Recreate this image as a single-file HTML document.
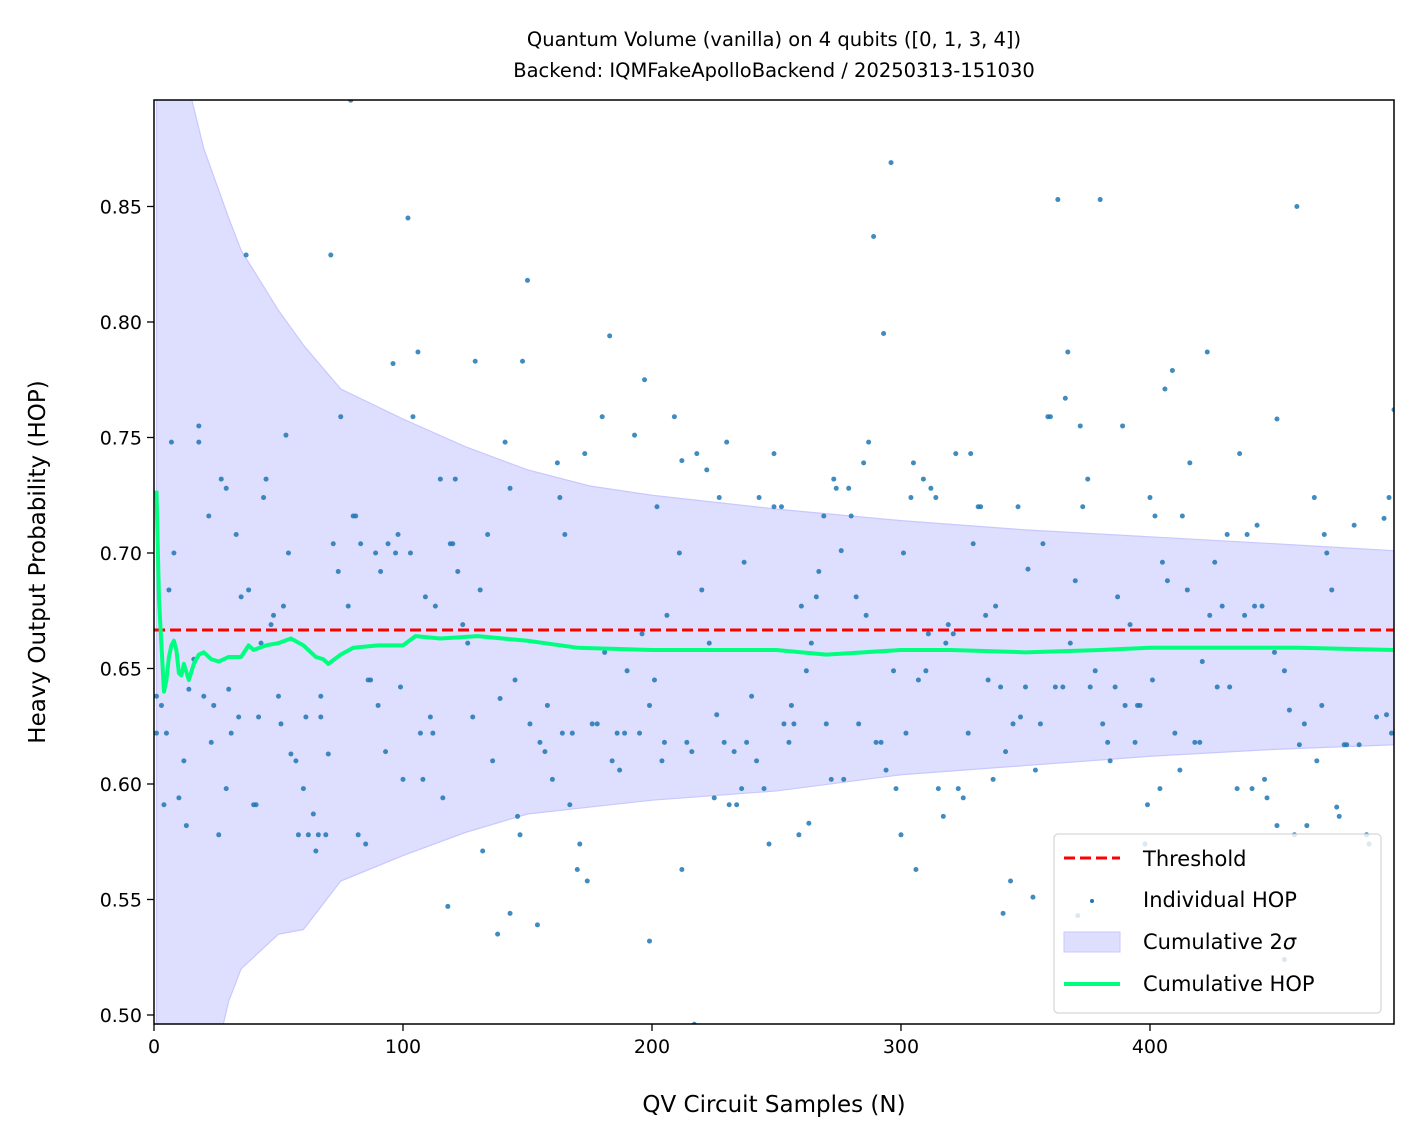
<!DOCTYPE html>
<html><head><meta charset="utf-8"><style>
html,body{margin:0;padding:0;background:#fff;overflow:hidden;width:1419px;height:1144px;}
svg{display:block;}
svg text{font-family:"DejaVu Sans","Liberation Sans",sans-serif;fill:#000;}
</style></head><body>
<svg id="chart" width="1419" height="1144" xmlns="http://www.w3.org/2000/svg">
<defs><clipPath id="clip"><rect x="154" y="100" width="1240" height="924"/></clipPath></defs>
<text x="774" y="46" text-anchor="middle" font-size="19.5">Quantum Volume (vanilla) on 4 qubits ([0, 1, 3, 4])</text>
<text x="774" y="77" text-anchor="middle" font-size="19.5">Backend: IQMFakeApolloBackend / 20250313-151030</text>
<g id="band" clip-path="url(#clip)"></g>
<g id="pts" clip-path="url(#clip)"></g>
<g id="lines" clip-path="url(#clip)"></g>
<rect x="154" y="100" width="1240" height="924" fill="none" stroke="#000" stroke-width="1.5"/>
<g id="axes"></g>
<text x="774" y="1112" text-anchor="middle" font-size="23">QV Circuit Samples (N)</text>
<text transform="translate(45,562) rotate(-90)" text-anchor="middle" font-size="23">Heavy Output Probability (HOP)</text>
<g>
<rect x="1054" y="834" width="327" height="179" rx="4" fill="#fff" fill-opacity="0.8" stroke="#ccc"/>
<line x1="1064" y1="858" x2="1120" y2="858" stroke="#f00" stroke-width="3" stroke-dasharray="11,5"/>
<text x="1143" y="866" font-size="21">Threshold</text>
<circle cx="1092" cy="901" r="2" fill="#1f77b4"/>
<text x="1143" y="907" font-size="21">Individual HOP</text>
<rect x="1064" y="932" width="56" height="20" fill="#dedeff" stroke="#c8c8ff"/>
<text x="1143" y="949" font-size="21">Cumulative 2<tspan font-style="italic">σ</tspan></text>
<line x1="1064" y1="984" x2="1120" y2="984" stroke="#00ff7f" stroke-width="4"/>
<text x="1143" y="991" font-size="21">Cumulative HOP</text>
</g>
</svg>
<script>
const ptN=[1,1,3,4,5,6,7,8,10,12,13,14,16,18,18,20,22,23,24,26,27,29,29,30,31,33,34,35,37,38,40,41,42,43,44,45,47,48,50,51,52,53,54,55,57,58,60,61,62,64,65,66,67,67,69,70,71,72,74,75,78,79,80,81,82,83,85,86,87,89,90,91,93,94,96,97,98,99,100,102,103,104,106,107,108,109,111,112,113,115,116,118,119,120,121,122,124,126,128,129,131,132,134,136,138,139,141,143,143,145,146,147,148,150,151,154,155,157,158,160,162,163,164,165,167,168,170,171,173,174,176,178,180,181,183,184,186,187,189,190,193,195,196,197,199,199,201,202,204,205,206,209,211,212,212,214,216,217,218,220,222,223,225,226,227,229,230,231,233,234,236,237,238,240,242,243,245,247,249,249,252,253,255,256,257,259,260,262,263,264,266,267,269,270,272,273,274,276,277,279,280,282,283,285,286,287,289,290,292,293,294,296,297,298,300,301,302,304,305,306,307,309,310,311,312,314,315,317,318,319,321,322,323,325,327,328,329,331,332,334,335,337,338,340,341,342,344,345,347,348,350,351,353,354,356,357,359,360,362,363,365,366,367,368,370,371,372,373,375,376,378,380,381,383,384,386,387,389,390,392,394,395,396,398,399,400,401,402,404,405,406,407,409,410,412,413,415,416,418,420,421,423,424,426,427,429,431,432,435,436,438,439,441,442,443,445,446,447,450,451,451,454,454,456,458,459,460,462,463,466,467,469,470,471,473,475,476,478,479,482,484,487,488,491,494,495,496,497,498];
const ptHop=[0.638,0.622,0.634,0.591,0.622,0.684,0.748,0.700,0.594,0.610,0.582,0.641,0.654,0.755,0.748,0.638,0.716,0.618,0.634,0.578,0.732,0.728,0.598,0.641,0.622,0.708,0.629,0.681,0.829,0.684,0.591,0.591,0.629,0.661,0.724,0.732,0.669,0.673,0.638,0.626,0.677,0.751,0.700,0.613,0.610,0.578,0.598,0.629,0.578,0.587,0.571,0.578,0.629,0.638,0.578,0.613,0.829,0.704,0.692,0.759,0.677,0.896,0.716,0.716,0.578,0.704,0.574,0.645,0.645,0.700,0.634,0.692,0.614,0.704,0.782,0.700,0.708,0.642,0.602,0.845,0.700,0.759,0.787,0.622,0.602,0.681,0.629,0.622,0.677,0.732,0.594,0.547,0.704,0.704,0.732,0.692,0.669,0.661,0.629,0.783,0.684,0.571,0.708,0.610,0.535,0.637,0.748,0.728,0.544,0.645,0.586,0.578,0.783,0.818,0.626,0.539,0.618,0.614,0.634,0.602,0.739,0.724,0.622,0.708,0.591,0.622,0.563,0.574,0.743,0.558,0.626,0.626,0.759,0.657,0.794,0.610,0.622,0.606,0.622,0.649,0.751,0.622,0.665,0.775,0.532,0.634,0.645,0.720,0.610,0.618,0.673,0.759,0.700,0.740,0.563,0.618,0.614,0.496,0.743,0.684,0.736,0.661,0.594,0.630,0.724,0.618,0.748,0.591,0.614,0.591,0.598,0.696,0.618,0.638,0.610,0.724,0.598,0.574,0.720,0.743,0.720,0.626,0.618,0.634,0.626,0.578,0.677,0.649,0.583,0.661,0.681,0.692,0.716,0.626,0.602,0.732,0.728,0.701,0.602,0.728,0.716,0.681,0.626,0.739,0.673,0.748,0.837,0.618,0.618,0.795,0.606,0.869,0.649,0.598,0.578,0.700,0.622,0.724,0.739,0.563,0.645,0.732,0.649,0.665,0.728,0.724,0.598,0.586,0.661,0.669,0.665,0.743,0.598,0.594,0.622,0.743,0.704,0.720,0.720,0.673,0.645,0.602,0.677,0.642,0.544,0.614,0.558,0.626,0.720,0.629,0.642,0.693,0.551,0.606,0.626,0.704,0.759,0.759,0.642,0.853,0.642,0.767,0.787,0.661,0.688,0.543,0.755,0.720,0.732,0.642,0.649,0.853,0.626,0.618,0.610,0.642,0.681,0.755,0.634,0.669,0.618,0.634,0.634,0.574,0.591,0.724,0.645,0.716,0.598,0.696,0.771,0.688,0.779,0.622,0.606,0.716,0.684,0.739,0.618,0.618,0.653,0.787,0.673,0.696,0.642,0.677,0.708,0.642,0.598,0.743,0.673,0.708,0.598,0.677,0.712,0.677,0.602,0.594,0.657,0.582,0.758,0.524,0.649,0.632,0.578,0.850,0.617,0.626,0.582,0.724,0.610,0.634,0.708,0.700,0.684,0.590,0.586,0.617,0.617,0.712,0.617,0.578,0.574,0.629,0.715,0.630,0.724,0.622,0.762];
const cumN=[1,2,3,4,5,6,7,8,9,10,11,12,14,16,18,20,23,26,30,35,38,40,45,50,55,60,65,68,70,75,80,90,100,105,115,130,150,170,200,230,250,270,300,320,350,380,400,430,460,498];
const cumHop=[0.727,0.680,0.660,0.640,0.645,0.655,0.660,0.662,0.658,0.648,0.647,0.652,0.645,0.652,0.656,0.657,0.654,0.653,0.655,0.655,0.660,0.658,0.660,0.661,0.663,0.660,0.655,0.654,0.652,0.656,0.659,0.660,0.660,0.664,0.663,0.664,0.662,0.659,0.658,0.658,0.658,0.656,0.658,0.658,0.657,0.658,0.659,0.659,0.659,0.658];
const bandN=[1,5,10,15,20,30,35,50,60,75,100,125,150,175,200,250,300,350,400,450,498];
const bandHi=[1.2,1.0,0.93,0.897,0.875,0.845,0.831,0.805,0.790,0.771,0.758,0.746,0.736,0.729,0.725,0.719,0.714,0.710,0.707,0.704,0.701];
const bandLo=[0.25,0.35,0.40,0.43,0.46,0.506,0.520,0.535,0.537,0.558,0.569,0.579,0.587,0.590,0.593,0.597,0.604,0.608,0.612,0.615,0.617];
const xTicks=[0,100,200,300,400];
const yTicks=[0.50,0.55,0.60,0.65,0.70,0.75,0.80,0.85];
const threshold=2/3;
const X0=154,X1=1394,Y0=1024,Y1=100,xmin=0,xmax=498,ymin=0.4961,ymax=0.8961;
const sx=v=>X0+(v-xmin)/(xmax-xmin)*(X1-X0);
const sy=v=>Y0-(v-ymin)/(ymax-ymin)*(Y0-Y1);
const NS="http://www.w3.org/2000/svg";
function mk(tag,attrs,parent){const e=document.createElementNS(NS,tag);for(const k in attrs)e.setAttribute(k,attrs[k]);parent.appendChild(e);return e;}
const band=document.getElementById('band');
let d='M'+bandN.map((n,i)=>sx(n)+','+sy(bandHi[i])).join('L');
for(let i=bandN.length-1;i>=0;i--)d+='L'+sx(bandN[i])+','+sy(bandLo[i]);
const bp=mk('path',{d:d+'Z',fill:'#dedeff',stroke:'#c8c8ff','stroke-width':1.2},band);


const pts=document.getElementById('pts');
ptN.forEach((n,i)=>{const c=mk('circle',{cx:sx(n),cy:sy(ptHop[i]),r:2.5,fill:'#1f77b4','fill-opacity':0.85},pts);

});
const lines=document.getElementById('lines');
const th=mk('line',{x1:X0,x2:X1,y1:sy(threshold),y2:sy(threshold),stroke:'#f00','stroke-width':3,'stroke-dasharray':'11,5'},lines);


const cl=mk('polyline',{points:cumN.map((n,i)=>sx(n)+','+sy(cumHop[i])).join(' '),fill:'none',stroke:'#00ff7f','stroke-width':4,'stroke-linejoin':'round'},lines);


const ax=document.getElementById('axes');
xTicks.forEach(t=>{mk('line',{x1:sx(t),x2:sx(t),y1:Y0,y2:Y0+7,stroke:'#000','stroke-width':1.3},ax);
const tx=mk('text',{x:sx(t),y:Y0+29,'text-anchor':'middle','font-size':19},ax);tx.textContent=t;

});
yTicks.forEach(t=>{mk('line',{x1:X0-7,x2:X0,y1:sy(t),y2:sy(t),stroke:'#000','stroke-width':1.3},ax);
const tx=mk('text',{x:X0-12,y:sy(t)+7,'text-anchor':'end','font-size':19},ax);tx.textContent=t.toFixed(2);

});
</script>
</body></html>
